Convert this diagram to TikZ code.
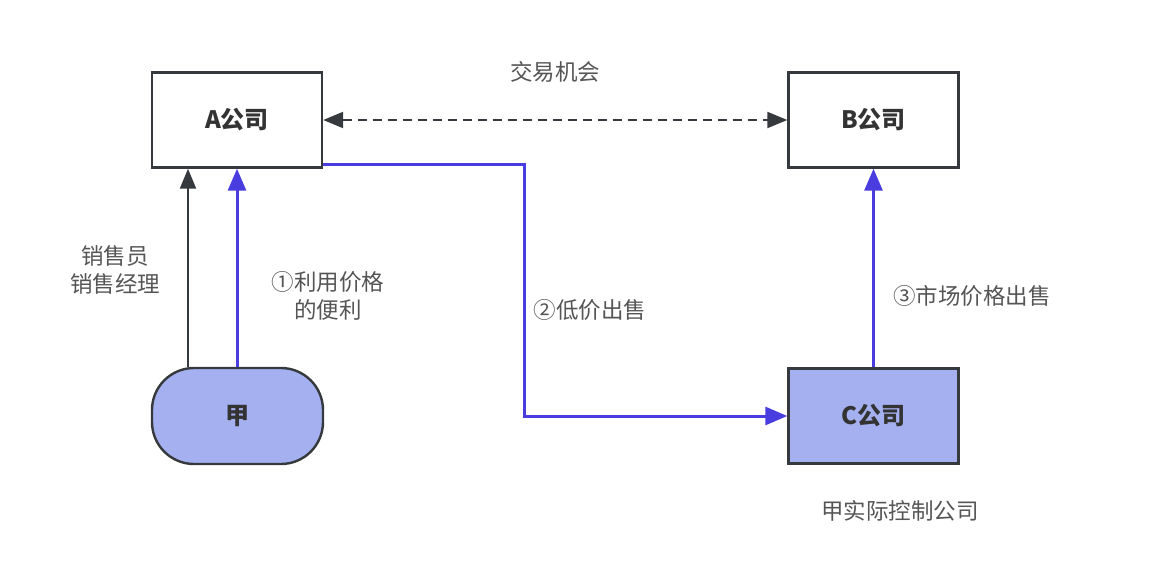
\documentclass[tikz,border=0pt]{standalone}
\usepackage{fontspec}
\setmainfont{Noto Sans CJK SC}
\usetikzlibrary{arrows.meta}
\definecolor{edge}{HTML}{36393D}
\definecolor{blueline}{HTML}{4A3DE0}
\definecolor{bluefill}{HTML}{A5B0F0}
\definecolor{txt}{HTML}{333333}
\definecolor{lbl}{HTML}{555555}
\tikzset{
  box/.style={draw=edge, line width=2.4pt, minimum width=170pt, minimum height=95pt, inner sep=0pt, text=txt, font=\fontsize{24}{28}\selectfont\bfseries},
  filled/.style={fill=bluefill},
  lab/.style={text=lbl, font=\fontsize{22.5}{28}\selectfont, align=center, inner sep=0pt},
  tip/.style={Triangle[length=20pt,width=16pt]},
  blk/.style={draw=edge, line width=2.2pt, -{Triangle[length=20pt,width=16pt]}},
  blu/.style={draw=blueline, line width=3pt, -{Triangle[length=22pt,width=18pt]}},
}
\begin{document}
\begin{tikzpicture}[x=1pt,y=-1pt]
\useasboundingbox (0,0) rectangle (1154,576);
\node[box] (A) at (237,120) {A公司};
\node[box] (B) at (873.5,120) {B公司};
\node[box, filled] (C) at (873.5,416) {C公司};
\node[box, filled, rounded corners=42pt, minimum width=171pt, minimum height=96pt] (J) at (237.5,416) {甲};
\node[lab] (t1) at (555,72) {交易机会};
\node[lab] (t2) at (115,270) {销售员\\销售经理};
\node[lab] (t3) at (328,296) {①利用价格\\的便利};
\node[lab] (t4) at (590,310) {②低价出售};
\node[lab] (t5) at (972,296) {③市场价格出售};
\node[lab] (t6) at (900,511) {甲实际控制公司};
\coordinate (bend1) at (524,164);
\coordinate (bend2) at (524,416);
\draw[blk, dashed, dash pattern=on 9pt off 6pt, {Triangle[length=20pt,width=16pt]}-{Triangle[length=20pt,width=16pt]}] (A.east) -- (B.west);
\draw[blk] (J.north -| 188,0) -- (A.south -| 188,0);
\draw[blu] (J.north -| 237,0) -- (A.south -| 237,0);
\draw[blu] (A.east |- bend1) -- (bend1) -- (bend2) -- (C.west);
\draw[blu] (C.north) -- (B.south);
\end{tikzpicture}
\end{document}
